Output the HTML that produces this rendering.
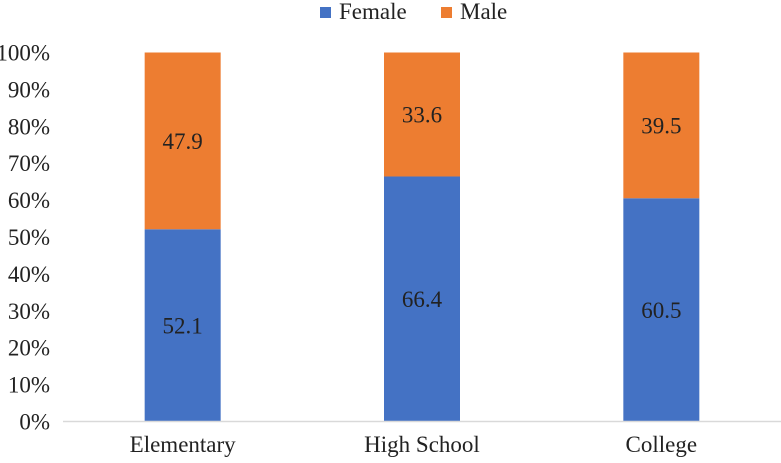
<!DOCTYPE html>
<html><head><meta charset="utf-8"><style>
html,body{margin:0;padding:0;background:#fff;}
svg text{font-family:"Liberation Serif",serif;fill:#222;}
</style></head><body>
<svg id="chart" width="781" height="458">
<g id="legend">
 <rect x="320" y="7" width="11" height="11" fill="#4472c4"/>
 <text x="339" y="19" font-size="23">Female</text>
 <rect x="441" y="7" width="11" height="11" fill="#ed7d31"/>
 <text x="460" y="19" font-size="23">Male</text>
</g>
<g id="yaxis"></g>
<g id="bars"></g>
<line x1="63" y1="421.5" x2="781" y2="421.5" stroke="#d9d9d9" stroke-width="1.5"/>
<g id="xaxis"></g>
</svg>
<script>
const categories = ["Elementary","High School","College"];
const female = [52.1,66.4,60.5];
const male = [47.9,33.6,39.5];
const yTicks = [0,10,20,30,40,50,60,70,80,90,100];

const NS="http://www.w3.org/2000/svg";
const x0=63,x1=781,yB=421.5,yT=52.5,bw=76;
const band=(x1-x0)/categories.length;
const xc=i=>x0+band*(i+0.5);
const y=v=>yB-(yB-yT)*v/100;
function mk(t,a,p){const e=document.createElementNS(NS,t);for(const k in a)e.setAttribute(k,a[k]);p.appendChild(e);return e;}
const ya=document.getElementById('yaxis');
yTicks.forEach(v=>{
 const t=mk('text',{x:50,y:y(v)+8,'text-anchor':'end','font-size':23},ya);
 t.textContent=v+'%';
 
 
});
const bars=document.getElementById('bars');
const xa=document.getElementById('xaxis');
categories.forEach((c,i)=>{
 const tot=female[i]+male[i];
 const f=female[i]/tot*100;
 const r1=mk('rect',{x:xc(i)-bw/2,y:y(f),width:bw,height:yB-y(f),fill:'#4472c4'},bars);
 
 
 const r2=mk('rect',{x:xc(i)-bw/2,y:yT,width:bw,height:y(f)-yT,fill:'#ed7d31'},bars);
 
 
 const l1=mk('text',{x:xc(i),y:(y(f)+yB)/2+8,'text-anchor':'middle','font-size':23},bars);
 l1.textContent=female[i].toFixed(1);
 
 
 const l2=mk('text',{x:xc(i),y:(y(f)+yT)/2+8,'text-anchor':'middle','font-size':23},bars);
 l2.textContent=male[i].toFixed(1);
 
 
 const xl=mk('text',{x:xc(i),y:452,'text-anchor':'middle','font-size':23},xa);
 xl.textContent=c;
 
 
});
</script>
</body></html>
